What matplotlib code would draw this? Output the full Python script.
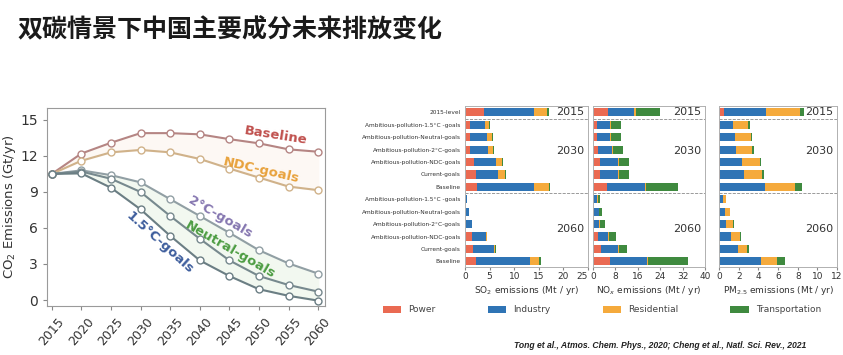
import numpy as np
import matplotlib
matplotlib.use("Agg")
import matplotlib.pyplot as plt
from matplotlib.patches import Patch

# ---- line panel: CO2 emissions by scenario ----
years = [2015, 2020, 2025, 2030, 2035, 2040, 2045, 2050, 2055, 2060]
co2_baseline = [10.5, 12.2, 13.1, 13.9, 13.9, 13.8, 13.4, 13.05, 12.55, 12.35]
co2_ndc = [10.5, 11.6, 12.3, 12.5, 12.3, 11.75, 10.95, 10.2, 9.45, 9.15]
co2_2c = [10.5, 10.8, 10.4, 9.8, 8.4, 7.0, 5.6, 4.15, 3.05, 2.2]
co2_neutral = [10.5, 10.7, 10.1, 9.0, 7.0, 5.1, 3.3, 2.0, 1.25, 0.7]
co2_15c = [10.5, 10.55, 9.35, 7.55, 5.35, 3.3, 2.0, 0.9, 0.35, -0.05]

# ---- bar panels ----
row_labels = [
    "2015-level",
    "Ambitious-pollution-1.5\u00b0C -goals", "Ambitious-pollution-Neutral-goals",
    "Ambitious-pollution-2\u00b0C-goals", "Ambitious-pollution-NDC-goals",
    "Current-goals", "Baseline",
    "Ambitious-pollution-1.5\u00b0C -goals", "Ambitious-pollution-Neutral-goals",
    "Ambitious-pollution-2\u00b0C-goals", "Ambitious-pollution-NDC-goals",
    "Current-goals", "Baseline",
]
sectors = ["Power", "Industry", "Residential", "Transportation"]

so2_power = [3.8, 1.0, 1.0, 1.1, 1.8, 2.3, 2.5, 0.05, 0.05, 0.05, 1.4, 1.7, 2.3]
so2_industry = [10.2, 3.0, 3.5, 3.6, 4.5, 4.4, 11.5, 0.4, 0.85, 1.45, 2.9, 4.2, 11.0]
so2_residential = [2.6, 0.85, 0.9, 1.0, 1.3, 1.4, 3.0, 0.0, 0.0, 0.0, 0.1, 0.2, 1.7]
so2_transport = [0.4, 0.15, 0.2, 0.2, 0.2, 0.2, 0.3, 0.0, 0.0, 0.0, 0.0, 0.1, 0.4]

nox_power = [5.2, 1.4, 1.4, 1.7, 2.6, 2.6, 5.0, 0.1, 0.1, 0.1, 1.9, 2.8, 6.0]
nox_industry = [9.6, 4.8, 4.8, 5.1, 6.2, 6.2, 13.4, 1.5, 2.0, 2.2, 3.6, 6.2, 13.4]
nox_residential = [0.6, 0.3, 0.3, 0.3, 0.4, 0.4, 0.6, 0.1, 0.1, 0.1, 0.2, 0.3, 0.3]
nox_transport = [8.6, 3.5, 3.5, 3.5, 3.5, 3.5, 11.5, 0.9, 1.2, 1.9, 2.5, 2.9, 14.3]

pm_power = [0.5, 0.05, 0.05, 0.05, 0.05, 0.05, 0.05, 0.0, 0.0, 0.0, 0.0, 0.0, 0.0]
pm_industry = [4.25, 1.35, 1.6, 1.7, 2.3, 2.45, 4.6, 0.4, 0.65, 0.75, 1.25, 1.95, 4.25]
pm_residential = [3.45, 1.55, 1.55, 1.6, 1.8, 1.9, 3.05, 0.35, 0.45, 0.65, 0.9, 0.85, 1.6]
pm_transport = [0.45, 0.15, 0.15, 0.25, 0.15, 0.15, 0.7, 0.0, 0.0, 0.1, 0.1, 0.2, 0.85]

sector_colors = ["#ea6a52", "#2f74b5", "#f5aa3c", "#3f8a3f"]

fig = plt.figure(figsize=(8.43, 3.55), dpi=100)
cjk = ["Noto Sans CJK SC", "DejaVu Sans"]
fig.text(0.021, 0.915, "双碳情景下中国主要成分未来排放变化", family=cjk,
         fontsize=18, fontweight="bold", color="#1a1a1a", va="center")

# ---- line chart ----
ax = fig.add_axes([0.0558, 0.138, 0.330, 0.558])
ax.fill_between(years, co2_15c, co2_2c, color="#f2f8f0", zorder=0)
ax.fill_between(years, co2_ndc, co2_baseline, color="#fdf8f4", zorder=0)
line_specs = [
    (co2_baseline, "#b58583"),
    (co2_ndc, "#d0b28a"),
    (co2_2c, "#919fa4"),
    (co2_neutral, "#77898e"),
    (co2_15c, "#6b7e84"),
]
for vals, c in line_specs:
    ax.plot(years, vals, color=c, lw=1.5, marker="o", ms=5,
            mfc="white", mec=c, mew=1.0)

labels = [
    ("Baseline", 2052.8, 13.7, -9, "#c0504d"),
    ("NDC-goals", 2050.3, 10.8, -13, "#e8a23c"),
    ("2\u00b0C-goals", 2043.5, 6.9, -30, "#8576b0"),
    ("Neutral-goals", 2045.2, 4.15, -30, "#4c9c42"),
    ("1.5\u00b0C-goals", 2033.2, 4.8, -42, "#3c5c9c"),
]
for txt, x, y, rot, c in labels:
    ax.text(x, y, txt, rotation=rot, color=c, fontsize=9.5,
            fontweight="bold", ha="center", va="center")

ax.set_xlim(2014.2, 2061.2)
ax.set_ylim(-0.5, 16)
ax.set_xticks(years)
ax.set_xticklabels([str(y) for y in years], rotation=50, fontsize=9,
                   color="#333333")
ax.set_yticks([0, 3, 6, 9, 12, 15])
ax.tick_params(axis="y", labelsize=10, colors="#333333")
ax.tick_params(axis="both", color="#888888", length=3)
ax.set_ylabel("CO$_2$ Emissions (Gt/yr)", fontsize=9.5, color="#333333",
              labelpad=2)
for s in ax.spines.values():
    s.set_color("#9a9a9a")
    s.set_linewidth(0.8)

# ---- stacked bar panels ----
panels = [
    ([so2_power, so2_industry, so2_residential, so2_transport],
     0.5516, 0.146, 25, [0, 5, 10, 15, 20, 25], "SO$_2$ emissions (Mt / yr)"),
    ([nox_power, nox_industry, nox_residential, nox_transport],
     0.7034, 0.133, 40, [0, 8, 16, 24, 32, 40], "NO$_x$ emissions (Mt / yr)"),
    ([pm_power, pm_industry, pm_residential, pm_transport],
     0.853, 0.140, 12, [0, 2, 4, 6, 8, 10, 12], "PM$_{2.5}$ emissions (Mt / yr)"),
]
ypos = np.arange(len(row_labels))
for i, (series, left, width, xmax, xt, xlabel) in enumerate(panels):
    bx = fig.add_axes([left, 0.248, width, 0.453])
    base = np.zeros(len(row_labels))
    for vals, c in zip(series, sector_colors):
        bx.barh(ypos, vals, left=base, height=0.66, color=c, lw=0)
        base += np.array(vals)
    for sep in [0.5, 6.5]:
        bx.axhline(sep, color="#8a8a8a", lw=0.6, ls="--")
    bx.set_xlim(0, xmax)
    bx.set_ylim(12.45, -0.5)
    bx.set_xticks(xt)
    bx.tick_params(axis="x", labelsize=6.5, length=2, color="#888888",
                   colors="#333333", pad=1.5)
    if i == 0:
        # the last label sits right against the next panel's "0"
        bx.get_xticklabels()[-1].set_horizontalalignment("right")
    bx.set_xlabel(xlabel, fontsize=6.5, color="#333333", labelpad=2)
    bx.set_yticks(ypos)
    if i == 0:
        bx.set_yticklabels(row_labels, fontsize=4.2, color="#333333")
        bx.tick_params(axis="y", length=0, pad=3)
    else:
        bx.set_yticklabels([])
        bx.tick_params(axis="y", length=0)
    for txt, yy in [("2015", 0), ("2030", 3.1), ("2060", 9.4)]:
        bx.text(0.97, yy, txt, transform=bx.get_yaxis_transform(),
                ha="right", va="center", fontsize=8, color="#333333")
    for s in bx.spines.values():
        s.set_color("#b0b0b0")
        s.set_linewidth(0.7)

handles = [Patch(facecolor=c, edgecolor="none") for c in sector_colors]
fig.legend(handles, sectors, loc="center", bbox_to_anchor=(0.714, 0.127),
           ncol=4, frameon=False, fontsize=6.5, handlelength=2.0,
           handleheight=0.8, columnspacing=5.8, handletextpad=0.8,
           labelcolor="#444444")

fig.text(0.783, 0.027,
         "Tong et al., Atmos. Chem. Phys., 2020; Cheng et al., Natl. Sci. Rev., 2021",
         family=["Liberation Sans", "DejaVu Sans"], fontsize=6.2,
         fontweight="bold", style="italic", color="#222222",
         ha="center", va="center")

fig.savefig("out.png", dpi=100)
